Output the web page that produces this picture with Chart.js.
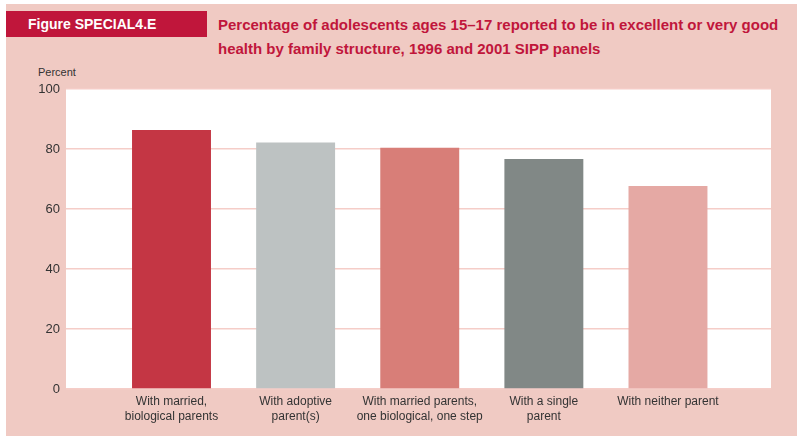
<!DOCTYPE html>
<html>
<head>
<meta charset="utf-8">
<script src="https://cdn.jsdelivr.net/npm/chart.js@4/dist/chart.umd.min.js"></script>
<style>
  html, body { margin: 0; padding: 0; background: #fff; }
  #frame { position: absolute; left: 6px; top: 4px; width: 791px; height: 432px; background: #F0CAC3; }
  #figtag { position: absolute; left: 6px; top: 11px; width: 201px; height: 26px; background: #C0163B;
            color: #fff; font: bold 14px "Liberation Sans", sans-serif; line-height: 26px; box-sizing: border-box; padding-left: 22px; }
  #titre { position: absolute; left: 218px; top: 13px; color: #C0163B; font: bold 15px "Liberation Sans", sans-serif; line-height: 24px; white-space: nowrap; }
  #ylab { position: absolute; left: 38px; top: 66px; color: #333; font: 11px "Liberation Sans", sans-serif; }
  #wrap { position: absolute; left: 0; top: 0; width: 797px; height: 436px; }
</style>
</head>
<body>
<div id="frame"></div>
<div id="figtag">Figure SPECIAL4.E</div>
<div id="titre">Percentage of adolescents ages 15–17 reported to be in excellent or very good<br>health by family structure, 1996 and 2001 SIPP panels</div>
<div id="ylab">Percent</div>
<div id="wrap"><canvas id="grafica"></canvas></div>
<script>
// Datos
const categorias = [
  ['With married,', 'biological parents'],
  ['With adoptive', 'parent(s)'],
  ['With married parents,', 'one biological, one step'],
  ['With a single', 'parent'],
  'With neither parent'
];
const valores = [86.3, 82.2, 80.4, 76.7, 67.7];
const colores = ['#C43644', '#BDC2C2', '#D87E78', '#818886', '#E5A9A4'];
const ticksY = [0, 20, 40, 60, 80, 100];

// Fondo blanco del área de la gráfica
const fondoBlanco = {
  id: 'fondoBlanco',
  beforeDraw(chart) {
    const { ctx, chartArea: a } = chart;
    ctx.save();
    ctx.fillStyle = '#fff';
    ctx.fillRect(a.left, a.top, a.right - a.left, a.bottom - a.top);
    ctx.restore();
  }
};

const ctx = document.getElementById('grafica').getContext('2d');
new Chart(ctx, {
  type: 'bar',
  data: {
    datasets: [{
      data: valores.map((v, i) => ({ x: i, y: v })),
      backgroundColor: colores,
      borderWidth: 0,
      categoryPercentage: 1,
      barPercentage: 0.636
    }]
  },
  options: {
    responsive: true,
    maintainAspectRatio: false,
    animation: false,
    layout: { padding: { left: 0, top: 89, right: 26, bottom: 0 } },
    plugins: { legend: { display: false }, tooltip: { enabled: false } },
    scales: {
      x: {
        type: 'linear',
        min: -0.85,
        max: 4.83,
        bounds: 'data',
        offset: false,
        grid: { display: false },
        border: { display: false },
        afterFit(scale) { scale.height = 47; },
        afterBuildTicks(scale) { scale.ticks = categorias.map((c, i) => ({ value: i })); },
        ticks: {
          autoSkip: false,
          maxRotation: 0,
          padding: -3,
          color: '#333',
          font: { family: 'Liberation Sans', size: 12, lineHeight: 1.25 },
          callback: (v, i) => categorias[i]
        }
      },
      y: {
        min: 0,
        max: 100,
        afterFit(scale) { scale.width = 66; },
        afterBuildTicks(scale) { scale.ticks = ticksY.map(v => ({ value: v })); },
        grid: { color: '#F5CDC8', lineWidth: 1.5, drawTicks: false },
        border: { display: false },
        ticks: {
          padding: 6,
          color: '#333',
          font: { family: 'Liberation Sans', size: 13 }
        }
      }
    }
  },
  plugins: [fondoBlanco]
});
</script>
</body>
</html>
